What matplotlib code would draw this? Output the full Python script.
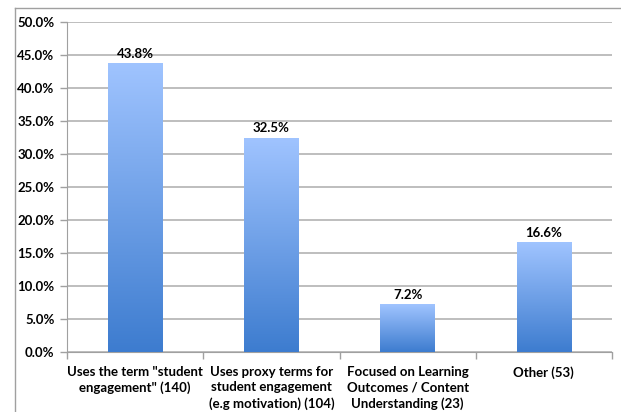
import matplotlib.pyplot as plt
import numpy as np
from matplotlib.colors import LinearSegmentedColormap
from matplotlib.lines import Line2D
from matplotlib.ticker import FuncFormatter, FixedLocator

categories = ['Uses the term "student\nengagement" (140)',
              'Uses proxy terms for\nstudent engagement\n(e.g motivation) (104)',
              'Focused on Learning\nOutcomes / Content\nUnderstanding (23)',
              'Other (53)']
shares = [43.8, 32.5, 7.2, 16.6]
yticks = [0, 5, 10, 15, 20, 25, 30, 35, 40, 45, 50]

plt.rcParams['font.family'] = ['Lato', 'DejaVu Sans']

fig = plt.figure(figsize=(6.21, 4.12), dpi=100)
ax = fig.add_axes([0.1079, 0.1456, 0.8776, 0.801])

# blue fade from dark at the base to light at the top
cmap = LinearSegmentedColormap.from_list('fade', ['#3d7ccf', '#a0c4ff'])
grad = np.linspace(0, 1, 256).reshape(-1, 1)

ind = np.arange(len(categories))
width = 0.4
bars = ax.bar(ind, shares, width, color='none', edgecolor='none', zorder=3)
for b, v in zip(bars, shares):
    x0 = b.get_x()
    img = ax.imshow(grad, extent=[x0, x0 + width, 0, v], origin='lower',
                    aspect='auto', cmap=cmap, zorder=3)
    img.set_clip_path(b)
    ax.text(b.get_x() + width / 2, v + 0.5, '%.1f%%' % v, ha='center',
            va='bottom', fontsize=9.5, fontweight='bold', color='black', zorder=4)

ax.set_xlim(-0.5, len(categories) - 0.5)
ax.set_ylim(0, 50)
ax.set_yticks(yticks)
ax.yaxis.set_major_formatter(FuncFormatter(lambda v, p: '%.1f%%' % v))
ax.set_xticks(ind)
ax.set_xticklabels(categories, fontsize=9.5, fontweight='bold', linespacing=1.35)
ax.xaxis.set_minor_locator(FixedLocator(np.arange(-0.5, len(categories), 1)))
ax.tick_params(axis='x', which='major', length=0, pad=10)
ax.tick_params(axis='x', which='minor', length=5, color='#a0a0a0', width=1)
ax.tick_params(axis='y', length=5, color='#a0a0a0', width=1, labelsize=9.5, pad=4)
for lab in ax.get_yticklabels():
    lab.set_fontweight('bold')

ax.grid(axis='y', color='#bebebe', linewidth=1.4, zorder=0)
ax.set_axisbelow(True)
for s in ['top', 'right']:
    ax.spines[s].set_visible(False)
ax.spines['left'].set_color('#a0a0a0')
ax.spines['bottom'].set_color('#a0a0a0')

# outer chart frame
fig.add_artist(Line2D([0.024, 0.024], [0.0, 0.9806], color='#a0a0a0', lw=1))
fig.add_artist(Line2D([0.024, 1.0], [0.9806, 0.9806], color='#a0a0a0', lw=1))

fig.savefig('out.png', dpi=100)
